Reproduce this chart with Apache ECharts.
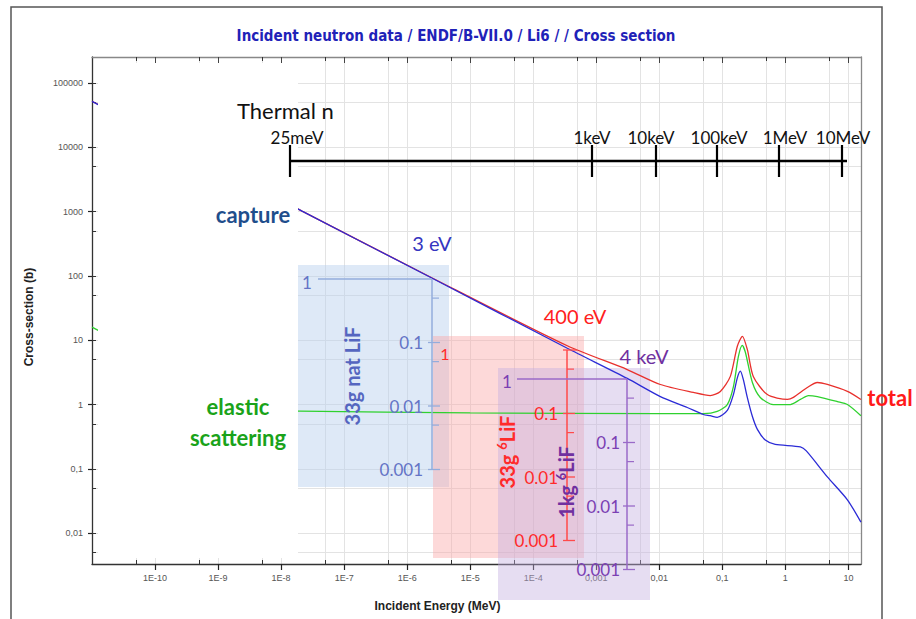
<!DOCTYPE html>
<html>
<head>
<meta charset="utf-8">
<script src="https://cdn.jsdelivr.net/npm/echarts@6/dist/echarts.min.js"></script>
<style>
html, body { margin: 0; padding: 0; background: #fff; }
#chart { width: 916px; height: 619px; }
</style>
</head>
<body>
<div id="chart"></div>
<script>
// Li6 cross sections: energy in MeV, cross section in barns
var captureE  = [1e-11, 2.15e-8, 2.5e-6, 3.47e-4, 3.1e-3, 0.0104, 0.0278, 0.05, 0.064, 0.083, 0.12, 0.15, 0.173, 0.193, 0.215, 0.249, 0.30, 0.36, 0.48, 0.69, 1.73, 2.15, 4.64, 9.64, 15.8];
var captureXS = [52000, 1020, 92, 7.5, 2.55, 1.33, 0.90, 0.70, 0.67, 0.63, 0.81, 1.43, 2.6, 3.3, 2.46, 1.29, 0.65, 0.41, 0.28, 0.24, 0.22, 0.19, 0.075, 0.033, 0.0148];

var elasticE  = [1e-11, 2e-11, 1e-9, 2e-8, 1e-5, 0.01, 0.05, 0.083, 0.12, 0.15, 0.18, 0.207, 0.232, 0.30, 0.40, 0.645, 1.2, 1.73, 2.32, 3.22, 6.7, 9.64, 15.8];
var elasticXS = [16, 11, 0.82, 0.79, 0.74, 0.72, 0.72, 0.78, 1.0, 1.9, 5.6, 8.3, 6.5, 2.2, 1.29, 1.0, 1.0, 1.2, 1.38, 1.33, 1.11, 1.0, 0.67];

var totalE  = [1e-11, 2.15e-8, 2.5e-6, 3.47e-4, 3.1e-3, 0.0104, 0.0347, 0.0645, 0.093, 0.134, 0.173, 0.208, 0.249, 0.31, 0.518, 1.08, 1.34, 2.23, 3.22, 4.64, 9.64, 15.8];
var totalXS = [52016, 1021, 93, 8.2, 3.5, 2.05, 1.54, 1.38, 1.6, 2.74, 8.05, 11.5, 7.2, 2.74, 1.43, 1.2, 1.29, 1.84, 2.2, 2.05, 1.6, 1.2];

// axis ticks (powers of ten) and their printed labels
var xTickExp    = [-10, -9, -8, -7, -6, -5, -4, -3, -2, -1, 0, 1];
var xTickLabels = ['1E-10', '1E-9', '1E-8', '1E-7', '1E-6', '1E-5', '1E-4', '0,001', '0,01', '0,1', '1', '10'];
var yTickExp    = [-2, -1, 0, 1, 2, 3, 4, 5];
var yTickLabels = ['0,01', '0,1', '1', '10', '100', '1000', '10000', '100000'];

var X_MIN = -11, X_MAX = 1.2;
var Y_MIN = -2.48, Y_MAX = 5.405;

var LOG5 = Math.log10(5);
var xMinor = [], yMinor = [];
for (var n = -11; n <= 0; n++) xMinor.push(n + LOG5);
for (var m = -3; m <= 4; m++) yMinor.push(m + LOG5);

function toLog(E, S) {
    var out = [];
    for (var i = 0; i < E.length; i++) out.push([Math.log10(E[i]), Math.log10(S[i])]);
    return out;
}

function lookup(v, exps, labels) {
    for (var i = 0; i < exps.length; i++) {
        if (Math.abs(exps[i] - v) < 1e-6) return labels[i];
    }
    return '';
}

var GRID = { left: 92, right: 55, top: 57, bottom: 55 };
var AXFONT = "'Liberation Sans', Arial, sans-serif";
var ANN = "Lato, 'Open Sans', sans-serif";
var gridColor = '#e3e3e3';

// ---- overlay annotation helpers (picture-space) ----
function seg(x1, y1, x2, y2, color, w, z) {
    return { type: 'line', silent: true, z: z || 20,
        shape: { x1: x1, y1: y1, x2: x2, y2: y2 },
        style: { stroke: color, lineWidth: w || 1 } };
}
function box(x, y, w, h, fill, z) {
    return { type: 'rect', silent: true, z: z,
        shape: { x: x, y: y, width: w, height: h },
        style: { fill: fill } };
}
function txt(s, x, y, size, color, opt) {
    opt = opt || {};
    var el = { type: 'text', silent: true, z: 22, x: x, y: y, rotation: opt.rot || 0,
        style: { text: s, x: 0, y: 0, fill: color,
            font: (opt.bold ? 'bold ' : '') + size + 'px ' + ANN,
            align: opt.align || 'center', verticalAlign: 'middle',
            textAlign: opt.align || 'center', textVerticalAlign: 'middle' } };
    if (opt.rich) el.style.rich = opt.rich;
    return el;
}

// little log scales drawn inside the shaded boxes
function miniScale(out, x, top, decades, color, textColor, labelRight) {
    var dec = 63.5;
    var names = ['1', '0.1', '0.01', '0.001'];
    out.push(seg(x, top, x, top + dec * decades, color, 1.5));
    for (var k = 0; k <= decades; k++) {
        var yy = top + k * dec;
        if (k > 0) out.push(seg(x - 4, yy, x + 8, yy, color, 1.3));
        if (k < decades) out.push(seg(x, yy + dec * 0.301, x + 7, yy + dec * 0.301, color, 1.2));
        if (k > 0 && labelRight) out.push(txt(names[k], labelRight, yy, 17, textColor, { align: 'right' }));
    }
}

var g = [];
// outer frame of the picture
g.push({ type: 'rect', silent: true, z: 0, shape: { x: 11, y: 7, width: 871, height: 650 },
    style: { fill: 'none', stroke: '#555', lineWidth: 1.5 } });
// white patch of the pasted slide, hides the far-left of the plot
g.push(box(98, 63, 200, 495, '#ffffff', 10));
// shaded boxes
g.push(box(297, 265, 152, 222, 'rgba(186,208,238,0.48)', 1));
g.push(box(433, 336, 151, 222, 'rgba(250,165,165,0.42)', 1));
g.push(box(498, 368, 152, 232, 'rgba(196,175,224,0.42)', 1));

// blue scale (33g nat LiF)
var bCol = '#93acdc', bTxt = '#6474c6';
g.push(seg(318, 279, 432, 279, bCol, 1.5));
miniScale(g, 432, 279, 3, bCol, bTxt, 423);
g.push(txt('1', 307, 282, 17, bTxt));
g.push(txt('33g nat LiF', 352, 376, 20, '#5566c0', { bold: true, rot: Math.PI / 2 }));

// red scale (33g 6LiF)
var rCol = '#ff4a4a', rTxt = '#ff2a2a';
miniScale(g, 567, 350, 3, rCol, rTxt, 558);
g.push(seg(563, 350, 577, 350, rCol, 1.3));
g.push(txt('1', 445, 353, 16, rTxt));
g.push(txt('{m|33g }{s|6}{m|LiF}', 507, 452, 20, rTxt, { bold: true, rot: Math.PI / 2, rich: {
    m: { fill: rTxt, font: 'bold 20px ' + ANN, lineHeight: 24 },
    s: { fill: rTxt, font: 'bold 13px ' + ANN, verticalAlign: 'top', lineHeight: 14 } } }));

// purple scale (1kg 6LiF)
var pCol = '#9a6ac8', pTxt = '#7b3fb3';
g.push(seg(517, 379, 627, 379, pCol, 1.5));
miniScale(g, 627, 379, 3, pCol, pTxt, 620);
g.push(txt('1', 507, 381, 17, pTxt));
g.push(txt('{m|1kg }{s|6}{m|LiF}', 566, 482, 20, '#7030a0', { bold: true, rot: Math.PI / 2, rich: {
    m: { fill: '#7030a0', font: 'bold 20px ' + ANN, lineHeight: 24 },
    s: { fill: '#7030a0', font: 'bold 13px ' + ANN, verticalAlign: 'top', lineHeight: 14 } } }));

// energy ruler at the top
var ruler = [[290, '25meV'], [592, '1keV'], [656, '10keV'], [717, '100keV'], [779, '1MeV'], [842, '10MeV']];
g.push(seg(290, 161, 847, 161, '#000', 2.5));
for (var r = 0; r < ruler.length; r++) {
    g.push(seg(ruler[r][0], 145, ruler[r][0], 177, '#000', 2.2));
}
g.push(txt('25meV', 297, 137, 17, '#111'));
g.push(txt('1keV', 592, 137, 17, '#111'));
g.push(txt('10keV', 651, 137, 17, '#111'));
g.push(txt('100keV', 719, 137, 17, '#111'));
g.push(txt('1MeV', 785, 137, 17, '#111'));
g.push(txt('10MeV', 843, 137, 17, '#111'));
g.push(txt('Thermal n', 237, 110, 22, '#111', { align: 'left' }));

// curve labels
g.push(txt('capture', 253, 214, 22, '#1f4e8c', { bold: true }));
g.push(txt('3 eV', 432, 243, 20, '#3535c0'));
g.push(txt('400 eV', 575, 316, 20, '#ff2020'));
g.push(txt('4 keV', 644, 356, 20, '#7030a0'));
g.push(txt('elastic', 238, 406, 22, '#1aa31a', { bold: true }));
g.push(txt('scattering', 238, 437, 22, '#1aa31a', { bold: true }));
g.push(txt('total', 890, 397, 22, '#ff1a1a', { bold: true }));

function xAxisCfg(pos, gridIndex, values, opts) {
    return Object.assign({
        type: 'value', gridIndex: gridIndex, position: pos, min: X_MIN, max: X_MAX, interval: 1,
        axisLine: { show: false, onZero: false }, axisLabel: { show: false }, splitLine: { show: false },
        axisTick: { show: true, customValues: values, inside: true, length: 4, lineStyle: { color: '#333', width: 1 } }
    }, opts || {});
}
function yAxisCfg(pos, gridIndex, values, opts) {
    return Object.assign({
        type: 'value', gridIndex: gridIndex, position: pos, min: Y_MIN, max: Y_MAX, interval: 1,
        axisLine: { show: false, onZero: false }, axisLabel: { show: false }, splitLine: { show: false },
        axisTick: { show: true, customValues: values, inside: true, length: 4, lineStyle: { color: '#333', width: 1 } }
    }, opts || {});
}

var option = {
    animation: false,
    backgroundColor: '#fff',
    title: {
        text: 'Incident neutron data / ENDF/B-VII.0 / Li6 / / Cross section',
        left: 451, top: 23, textAlign: 'center',
        textStyle: { color: '#1f22b8', fontSize: 15, fontWeight: 'bold',
            fontFamily: "'Liberation Sans Narrow', 'DejaVu Sans Condensed', sans-serif" }
    },
    grid: [
        Object.assign({ show: false }, GRID),
        Object.assign({ show: false }, GRID)
    ],
    xAxis: [
        xAxisCfg('bottom', 0, xTickExp, {
            name: 'Incident Energy (MeV)', nameLocation: 'middle', nameGap: 36,
            nameTextStyle: { fontFamily: AXFONT, fontWeight: 'bold', fontSize: 12, color: '#222', padding: [0, 78, 0, 0] },
            axisLine: { show: true, onZero: false, lineStyle: { color: '#333', width: 1.3 } },
            axisTick: { show: true, customValues: xTickExp, inside: false, length: 6, lineStyle: { color: '#222', width: 1.2 } },
            axisLabel: { show: true, customValues: xTickExp, margin: 9, fontSize: 9, color: '#555', fontFamily: AXFONT,
                formatter: function (v) { return lookup(v, xTickExp, xTickLabels); } },
            splitLine: { show: true, lineStyle: { color: gridColor, width: 1 } }
        }),
        xAxisCfg('top', 0, xTickExp, {
            axisLine: { show: true, onZero: false, lineStyle: { color: '#888', width: 1.3 } },
            axisTick: { show: true, customValues: xTickExp, inside: true, length: 6, lineStyle: { color: '#444', width: 1 } }
        }),
        xAxisCfg('bottom', 1, xMinor, {
            splitLine: { show: true, lineStyle: { color: gridColor, width: 1 } }
        }),
        xAxisCfg('top', 1, xMinor)
    ],
    yAxis: [
        yAxisCfg('left', 0, yTickExp, {
            name: 'Cross-section (b)', nameLocation: 'middle', nameGap: 57,
            nameTextStyle: { fontFamily: AXFONT, fontWeight: 'bold', fontSize: 12, color: '#222', padding: [0, 13, 0, 0] },
            axisLine: { show: true, onZero: false, lineStyle: { color: '#333', width: 1.3 } },
            axisTick: { show: true, customValues: yTickExp, inside: false, length: 4, lineStyle: { color: '#222', width: 1.2 } },
            axisLabel: { show: true, customValues: yTickExp, margin: 9, fontSize: 9, color: '#555', fontFamily: AXFONT,
                formatter: function (v) { return lookup(v, yTickExp, yTickLabels); } },
            splitLine: { show: true, lineStyle: { color: gridColor, width: 1 } }
        }),
        yAxisCfg('right', 0, yTickExp, {
            axisLine: { show: true, onZero: false, lineStyle: { color: '#888', width: 1.3 } },
            axisTick: { show: false }
        }),
        yAxisCfg('left', 1, yMinor.concat(yTickExp), {
            splitLine: { show: true, lineStyle: { color: gridColor, width: 1 } }
        }),
        yAxisCfg('right', 1, yMinor, { axisTick: { show: false } })
    ],
    series: [
        { name: 'total', type: 'line', xAxisIndex: 0, yAxisIndex: 0, z: 2, showSymbol: false, smooth: 0.25,
          lineStyle: { color: '#e8302c', width: 1.3 }, data: toLog(totalE, totalXS) },
        { name: 'elastic', type: 'line', xAxisIndex: 0, yAxisIndex: 0, z: 3, showSymbol: false, smooth: 0.25,
          lineStyle: { color: '#2fd12f', width: 1.3 }, data: toLog(elasticE, elasticXS) },
        { name: 'capture', type: 'line', xAxisIndex: 0, yAxisIndex: 0, z: 4, showSymbol: false, smooth: 0.25,
          lineStyle: { color: '#2b2bd6', width: 1.3 }, data: toLog(captureE, captureXS) }
    ],
    graphic: { elements: g }
};

var chart = echarts.init(document.getElementById('chart'), null, { renderer: 'svg' });
chart.setOption(option);
</script>
</body>
</html>
